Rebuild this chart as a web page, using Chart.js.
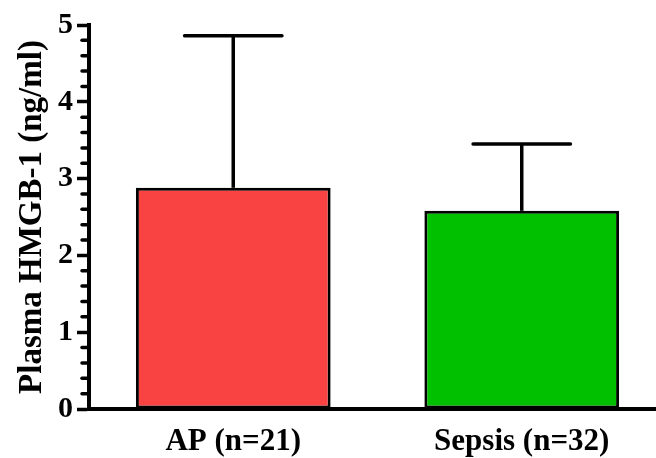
<!DOCTYPE html>
<html>
<head>
<meta charset="utf-8">
<script src="https://cdn.jsdelivr.net/npm/chart.js@4/dist/chart.umd.min.js"></script>
<style>
  html, body { margin: 0; padding: 0; background: #fff; overflow: hidden; }
  #wrap { width: 656px; height: 458px; overflow: hidden; }
</style>
</head>
<body>
<div id="wrap"><canvas id="chart" width="666" height="458"></canvas></div>
<script>
const categories = ["AP (n=21)", "Sepsis (n=32)"];
const meanValues = [2.88, 2.58];
const errorTops = [4.86, 3.45];
const barColors = ["#f94343", "#00c000"];
const yTicks = [0, 1, 2, 3, 4, 5];
const yMinorStep = 0.2;
const yTitle = "Plasma HMGB-1 (ng/ml)";

const FONT = "'Liberation Serif', 'Times New Roman', serif";

// upper error bars only, drawn from the y scale
const errorBarPlugin = {
  id: "errorBars",
  afterDatasetsDraw(chart) {
    const ctx = chart.ctx;
    const yScale = chart.scales.y;
    const meta = chart.getDatasetMeta(0);
    ctx.save();
    ctx.strokeStyle = "#000";
    ctx.lineWidth = 3.5;
    meta.data.forEach((bar, i) => {
      const top = yScale.getPixelForValue(errorTops[i]);
      const half = bar.width / 4;
      ctx.lineCap = "butt";
      ctx.beginPath();
      ctx.moveTo(bar.x, bar.y);
      ctx.lineTo(bar.x, top);
      ctx.stroke();
      ctx.lineCap = "round";
      ctx.beginPath();
      ctx.moveTo(bar.x - half, top);
      ctx.lineTo(bar.x + half, top);
      ctx.stroke();
    });
    ctx.restore();
  },
};

// small ticks between the labelled ones
const minorTickPlugin = {
  id: "minorTicks",
  afterDraw(chart) {
    const ctx = chart.ctx;
    const yScale = chart.scales.y;
    const x = chart.chartArea.left;
    ctx.save();
    ctx.strokeStyle = "#000";
    ctx.lineWidth = 3.5;
    ctx.lineCap = "round";
    const max = yTicks[yTicks.length - 1];
    for (let v = yMinorStep; v < max; v += yMinorStep) {
      const r = Math.round(v * 10) / 10;
      if (Number.isInteger(r)) continue;
      const y = yScale.getPixelForValue(r);
      ctx.beginPath();
      ctx.moveTo(x - 7, y);
      ctx.lineTo(x, y);
      ctx.stroke();
    }
    ctx.restore();
  },
};

new Chart(document.getElementById("chart"), {
  type: "bar",
  data: {
    labels: categories,
    datasets: [
      {
        data: meanValues,
        backgroundColor: barColors,
        borderColor: "#000",
        borderWidth: 3,
        borderSkipped: false,
        categoryPercentage: 1,
        barPercentage: 0.675,
      },
    ],
  },
  options: {
    responsive: false,
    animation: false,
    events: [],
    layout: { padding: { top: 25, right: 0, left: 0, bottom: 0 } },
    plugins: {
      legend: { display: false },
      tooltip: { enabled: false },
    },
    scales: {
      x: {
        afterFit: (scale) => {
          scale.height = 49;
        },
        grid: { display: false, drawTicks: false },
        border: { display: true, color: "#000", width: 4 },
        ticks: {
          color: "#000",
          padding: 14,
          font: { family: FONT, size: 31, weight: "bold" },
        },
      },
      y: {
        min: 0,
        max: 5,
        afterBuildTicks: (scale) => {
          scale.ticks = yTicks.map((v) => ({ value: v }));
        },
        afterFit: (scale) => {
          scale.width = 89;
        },
        grid: {
          display: true,
          drawOnChartArea: false,
          color: "#000",
          tickColor: "#000",
          tickLength: 12,
          tickWidth: 3.5,
        },
        border: { display: true, color: "#000", width: 4 },
        ticks: {
          color: "#000",
          padding: 4,
          font: { family: FONT, size: 30, weight: "bold" },
        },
        title: {
          display: true,
          text: yTitle,
          color: "#000",
          padding: { top: 13, bottom: 5 },
          font: { family: FONT, size: 33, weight: "bold" },
        },
      },
    },
  },
  plugins: [errorBarPlugin, minorTickPlugin],
});
</script>
</body>
</html>
